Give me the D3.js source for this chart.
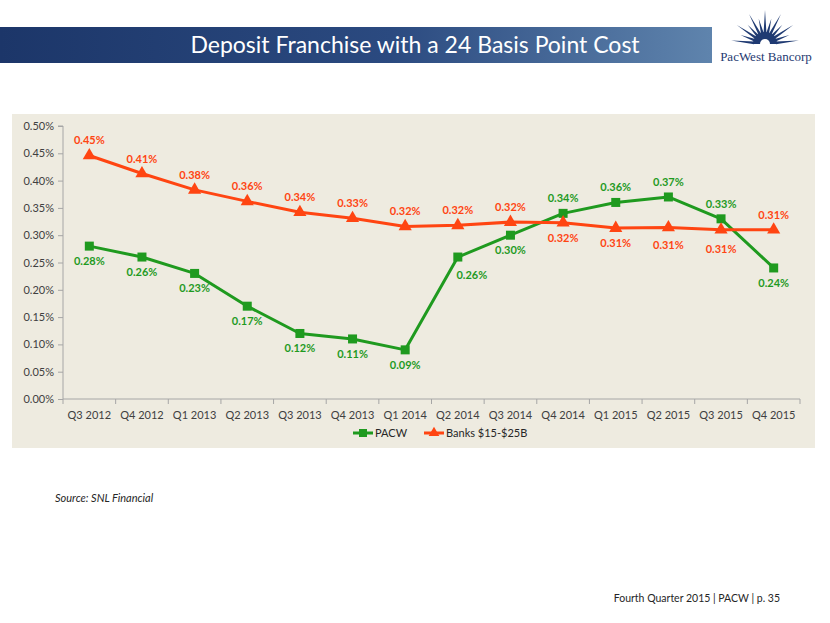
<!DOCTYPE html>
<html><head><meta charset="utf-8">
<script src="https://cdn.jsdelivr.net/npm/d3@7"></script>
<style>
html,body{margin:0;padding:0;background:#fff;}
svg{display:block;font-family:Lato,"Open Sans",sans-serif;}
</style></head>
<body>
<svg id="c" width="830" height="623"></svg>
<script>
const categories = ["Q3 2012","Q4 2012","Q1 2013","Q2 2013","Q3 2013","Q4 2013","Q1 2014","Q2 2014","Q3 2014","Q4 2014","Q1 2015","Q2 2015","Q3 2015","Q4 2015"];
const pacw = [0.28,0.26,0.23,0.17,0.12,0.11,0.09,0.26,0.30,0.34,0.36,0.37,0.33,0.24];
const banks = [0.446,0.413,0.383,0.362,0.342,0.331,0.316,0.318,0.324,0.323,0.313,0.314,0.310,0.310];
const yTicks = [0,0.05,0.10,0.15,0.20,0.25,0.30,0.35,0.40,0.45,0.50];
const seriesNames = ["PACW","Banks $15-$25B"];
const title = "Deposit Franchise with a 24 Basis Point Cost";

// styling: manual label nudges (dx, dy) as in the original slide
const labelNudge = {"PACW|Q2 2014":[14,3], "Banks $15-$25B|Q3 2015":[0,4], "Banks $15-$25B|Q2 2015":[0,2]};

const svg = d3.select("#c");
const GREEN = "#1f9a1f", RED = "#ff4512", NAVY = "#1f3a72";

// Title bar
const defs = svg.append("defs");
const g1 = defs.append("linearGradient").attr("id","tb").attr("x1","0").attr("x2","1");
g1.append("stop").attr("offset","0").attr("stop-color","#1c3669");
g1.append("stop").attr("offset","0.55").attr("stop-color","#2b4a80");
g1.append("stop").attr("offset","1").attr("stop-color","#5f84ad");
svg.append("rect").attr("x",0).attr("y",27).attr("width",712).attr("height",36).attr("fill","url(#tb)");
svg.append("text").attr("x",415).attr("y",53).attr("text-anchor","middle")
  .attr("fill","#fff").attr("font-size",23).text(title);

// Logo
const logo = svg.append("g").attr("transform","translate(765,44)");
const rays = d3.range(-84,85,14);
rays.forEach((a,i)=>{
  const len = (i%2===0)? 34 : 26;
  const r = a*Math.PI/180;
  const hw = 0.13;
  const x0 = Math.sin(r-hw)*11, y0=-Math.cos(r-hw)*11;
  const x1 = Math.sin(r+hw)*11, y1=-Math.cos(r+hw)*11;
  const xt = Math.sin(r)*len, yt=-Math.cos(r)*len;
  logo.append("path").attr("d",`M${x0},${y0}L${xt},${yt}L${x1},${y1}Z`).attr("fill",NAVY);
});
logo.append("path").attr("d",d3.arc()({innerRadius:0,outerRadius:12,startAngle:-Math.PI/2,endAngle:Math.PI/2})).attr("fill",NAVY);
logo.append("path").attr("d",d3.arc()({innerRadius:0,outerRadius:5,startAngle:-Math.PI/2,endAngle:Math.PI/2})).attr("fill","#fff");
svg.append("text").attr("x",766).attr("y",61).attr("text-anchor","middle")
  .attr("font-family","'Liberation Serif',serif").attr("font-size",13).attr("fill",NAVY).text("PacWest Bancorp");

// Chart background
svg.append("rect").attr("x",12).attr("y",114).attr("width",803).attr("height",334).attr("fill","#eeebe0");

const m = {l:63, r:800, t:126, b:399};
const x = d3.scaleBand().domain(categories).range([m.l,m.r]);
const y = d3.scaleLinear().domain([0,0.5]).range([m.b,m.t]);

// y axis
const ya = svg.append("g").attr("transform",`translate(${m.l},0)`)
  .call(d3.axisLeft(y).tickValues(yTicks).tickSize(5).tickPadding(4).tickFormat(d=>d.toFixed(2)+"%"));
ya.select(".domain").attr("stroke","#a6a6a6").attr("d",`M-5,${m.t}H0V${m.b}`);
ya.selectAll(".tick line").attr("stroke","#a6a6a6");
ya.selectAll("text").attr("font-family","Lato,sans-serif").attr("font-size",11).attr("fill","#404040");

// x axis
const xa = svg.append("g").attr("transform",`translate(0,${m.b})`)
  .call(d3.axisBottom(x).tickSize(0).tickPadding(12));
xa.select(".domain").attr("stroke","#a6a6a6").attr("d",`M${m.l},0H${m.r}`);
xa.selectAll("text").attr("font-family","Lato,sans-serif").attr("font-size",11).attr("fill","#404040");
d3.range(categories.length+1).forEach(i=>{
  const xx = m.l + i*x.step();
  svg.append("line").attr("x1",xx).attr("x2",xx).attr("y1",m.b).attr("y2",m.b+5).attr("stroke","#a6a6a6");
});

const cx = d=>x(d)+x.bandwidth()/2;
const line = d3.line();

function drawSeries(name, vals, other, color, shape){
  svg.append("path").attr("d",line(vals.map((v,i)=>[cx(categories[i]),y(v)])))
    .attr("fill","none").attr("stroke",color).attr("stroke-width",3).attr("stroke-linejoin","round");
  vals.forEach((v,i)=>{
    const px = cx(categories[i]), py = y(v);
    if(shape==="square"){
      svg.append("rect").attr("x",px-4.5).attr("y",py-4.5).attr("width",9).attr("height",9).attr("fill",color);
    } else {
      svg.append("path").attr("d",d3.symbol(d3.symbolTriangle,75)()).attr("transform",`translate(${px},${py})`).attr("fill",color);
    }
    const above = v >= other[i];
    const nd = labelNudge[name+"|"+categories[i]] || [0,0];
    svg.append("text").attr("x",px+nd[0]).attr("y", (above ? py-11 : py+19)+nd[1])
      .attr("text-anchor","middle").attr("font-size",11).attr("font-weight","bold")
      .attr("fill",color).text(v.toFixed(2)+"%");
  });
}
drawSeries(seriesNames[0], pacw, banks, GREEN, "square");
drawSeries(seriesNames[1], banks, pacw, RED, "triangle");

// legend
const leg = [{n:seriesNames[0],c:GREEN,s:"square",x:353},{n:seriesNames[1],c:RED,s:"triangle",x:424}];
leg.forEach(d=>{
  const ly = 433;
  svg.append("line").attr("x1",d.x).attr("x2",d.x+20).attr("y1",ly).attr("y2",ly).attr("stroke",d.c).attr("stroke-width",3);
  if(d.s==="square") svg.append("rect").attr("x",d.x+6).attr("y",ly-4).attr("width",8).attr("height",8).attr("fill",d.c);
  else svg.append("path").attr("d",d3.symbol(d3.symbolTriangle,50)()).attr("transform",`translate(${d.x+10},${ly})`).attr("fill",d.c);
  svg.append("text").attr("x",d.x+22).attr("y",ly+4).attr("font-size",11).attr("fill","#262626").text(d.n);
});

svg.append("text").attr("x",55).attr("y",502).attr("font-size",11).attr("font-style","italic").attr("fill","#262626").text("Source: SNL Financial");
svg.append("text").attr("x",780).attr("y",602).attr("text-anchor","end").attr("font-size",10.5).attr("fill","#262626").text("Fourth Quarter 2015 | PACW | p. 35");
</script>
</body></html>
